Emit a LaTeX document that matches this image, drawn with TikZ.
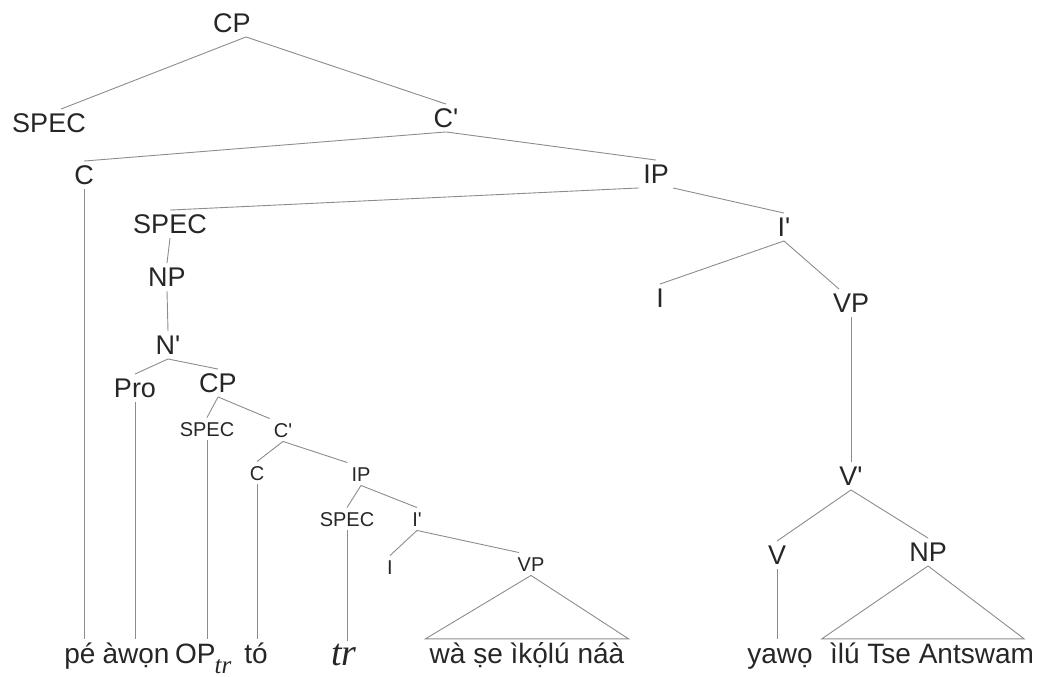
\documentclass[tikz,border=0pt]{standalone}
\usepackage{fontspec}
\setmainfont{Liberation Sans}[Ligatures=TeXOff]
\newfontfamily\trfont{Liberation Serif}
\usepackage{tikz}

\begin{document}
\begin{tikzpicture}[x=1pt, y=-1pt,
    lbl/.style={font=\fontsize{27}{30}\selectfont, text=black!85, inner sep=4pt, text height=19.5pt, text depth=0pt},
    sml/.style={lbl, font=\fontsize{20}{24}\selectfont, text height=14.5pt},
    wrd/.style={lbl, font=\fontsize{28}{32}\selectfont, text height=20pt, anchor=base},
    branch/.style={draw=black!45, line width=0.9pt}]
    \useasboundingbox (0,0) rectangle (1049,677);

    % upper part of the tree
    \node[lbl] (cp1) at (232,23) {CP};
    \node[lbl] (spec1) at (49,123) {SPEC};
    \node[lbl] (cbar1) at (446,118) {C'};
    \node[lbl] (c1) at (84,175) {C};
    \node[lbl] (ip1) at (656,174) {IP};
    \node[lbl] (spec2) at (170,224) {SPEC};
    \node[lbl] (ibar1) at (784,227) {I'};
    \node[lbl] (np1) at (167,277) {NP};
    \node[lbl] (i1) at (660,298) {I};
    \node[lbl] (vp1) at (851,303) {VP};
    \node[lbl] (nbar) at (168,345) {N'};
    \node[lbl] (pro) at (135,388) {Pro};
    \node[lbl] (cp2) at (218,383) {CP};
    \node[lbl] (vbar) at (851,476) {V'};
    \node[lbl] (v) at (777,555) {V};
    \node[lbl] (np2) at (928,552) {NP};

    % the relative clause (smaller labels)
    \node[sml] (spec3) at (207,429) {SPEC};
    \node[sml] (cbar2) at (283,430) {C'};
    \node[sml] (c2) at (257,473) {C};
    \node[sml] (ip2) at (361,474) {IP};
    \node[sml] (spec4) at (347,519) {SPEC};
    \node[sml] (ibar2) at (417,519) {I'};
    \node[sml] (i2) at (390,567) {I};
    \node[sml] (vp2) at (531,564) {VP};

    % the words
    \node[wrd] (pe) at (80,663) {pé};
    \node[wrd] (awon) at (136,663) {àwọn};
    \node[wrd, anchor=base west] (op) at (171,663) {OP\kern-1pt\raisebox{-10pt}{\fontsize{25}{25}\selectfont\trfont\itshape tr}};
    \node[wrd] (to) at (256,663) {tó};
    \node[wrd] (tr) at (344,665) {\fontsize{38}{40}\selectfont\trfont\itshape tr};
    \node[wrd] (wase) at (527,663) {wà ṣe ìkọ́lú náà};
    \node[wrd] (yawo) at (780,663) {yawọ};
    \node[wrd] (ilu) at (932,663) {ìlú Tse Antswam};

    % branches
    \draw[branch] ([xshift=14pt]cp1.south) -- ([xshift=12pt]spec1.north);
    \draw[branch] ([xshift=14pt]cp1.south) -- (cbar1.north);
    \draw[branch] (cbar1.south) -- (c1.north);
    \draw[branch] (cbar1.south) -- (ip1.north);
    \draw[branch] (ip1.south west) -- (spec2.north);
    \draw[branch] (ip1.south east) -- (ibar1.north);
    \draw[branch] (ibar1.south) -- (i1.north);
    \draw[branch] (ibar1.south) -- ([xshift=-12pt]vp1.north);
    \draw[branch] (vp1.south) -- (vbar.north);
    \draw[branch] (vbar.south) -- (v.north);
    \draw[branch] (vbar.south) -- (np2.north);
    \draw[branch] (spec2.south) -- (np1.north);
    \draw[branch] (np1.south) -- (nbar.north);
    \draw[branch] (nbar.south) -- (pro.north);
    \draw[branch] (nbar.south) -- (cp2.north);
    \draw[branch] (cp2.south) -- (spec3.north);
    \draw[branch] (cp2.south) -- (cbar2.north west);
    \draw[branch] (cbar2.south) -- (c2.north);
    \draw[branch] (cbar2.south) -- (ip2.north west);
    \draw[branch] (ip2.south) -- (spec4.north);
    \draw[branch] (ip2.south) -- (ibar2.north);
    \draw[branch] (ibar2.south) -- (i2.north);
    \draw[branch] (ibar2.south) -- ([xshift=-12pt]vp2.north);

    % lines down to the words
    \draw[branch] (c1.south) -- (c1.south |- pe.north);
    \draw[branch] (pro.south) -- (pro.south |- awon.north);
    \draw[branch] (spec3.south) -- (spec3.south |- op.north);
    \draw[branch] (c2.south) -- (c2.south |- to.north);
    \draw[branch] (spec4.south) -- (spec4.south |- tr.north);
    \draw[branch] (v.south) -- (v.south |- yawo.north);

    % triangles
    \draw[branch] (vp2.south) -- (wase.north west) -- (wase.north east) -- cycle;
    \draw[branch] (np2.south) -- ([xshift=-4pt]ilu.north west) -- ([xshift=-14pt]ilu.north east) -- cycle;
\end{tikzpicture}
\end{document}
